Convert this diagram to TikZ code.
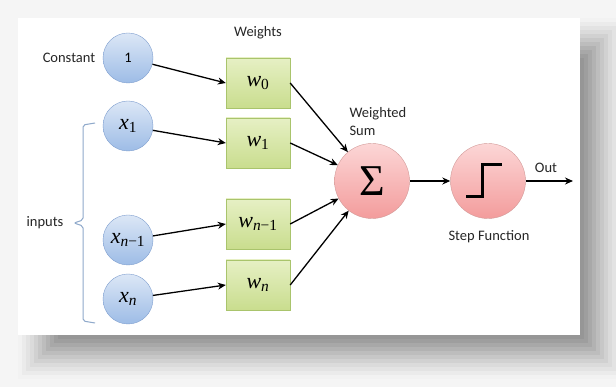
\documentclass[tikz,border=0pt]{standalone}
\usepackage{fontspec}
\setmainfont{Carlito}
\newfontfamily\symfont{Liberation Serif}
\usetikzlibrary{arrows.meta}

\definecolor{intop}{HTML}{DCE7F6}
\definecolor{inbot}{HTML}{9DBCE6}
\definecolor{inedge}{HTML}{7F9FCF}
\definecolor{wtop}{HTML}{E6F0C4}
\definecolor{wbot}{HTML}{C9DD8E}
\definecolor{wedge}{HTML}{A9C46C}
\definecolor{utop}{HTML}{FCD6D6}
\definecolor{ubot}{HTML}{F39C9C}
\definecolor{uedge}{HTML}{D29A98}
\definecolor{bracecol}{HTML}{8FA9CB}

% italic letter with an upright subscript
\newcommand\vsub[2]{{\itshape #1}\textsubscript{#2}}

\tikzset{
  input/.style={circle,draw=inedge,top color=intop,bottom color=inbot,
    minimum size=50pt,inner sep=0pt,font=\symfont\fontsize{22}{24}\selectfont},
  weight/.style={rectangle,draw=wedge,top color=wtop,bottom color=wbot,
    minimum width=64pt,minimum height=50pt,inner sep=0pt,font=\symfont\fontsize{22}{24}\selectfont},
  unit/.style={circle,draw=uedge,top color=utop,bottom color=ubot,
    minimum size=75pt,inner sep=0pt,font=\symfont\fontsize{44}{46}\selectfont},
  tag/.style={font=\fontsize{14.5}{18}\selectfont,text=black!85}
}

\begin{document}
\begin{tikzpicture}[x=1pt,y=-1pt]
	\useasboundingbox (0,0) rectangle (616,387);
	% backdrop, shadow and panel
	\fill[black!4] (0,0) rectangle (616,387);
	\foreach \d/\g in {44/5,40/8,36/11,32/14,28/18,24/22,20/26,16/30,12/34,8/38,4/41}
		\fill[black!\g] ({62-\d},{62-\d}) rectangle ({580+\d},{335+\d});
	\fill[white] (18,18) rectangle (580,335);

	\begin{scope}
		\node[input] (one) at (128,58) {\normalfont\fontsize{14.5}{16}\selectfont 1};
		\node[input] (x1) at (128,126) {\vsub{x}{1}};
		\node[input] (xn1) at (128,240) {\vsub{x}{\itshape n\upshape −1}};
		\node[input] (xn) at (128,299) {\vsub{x}{\itshape n}};
		\node[weight] (w0) at (258,83) {\vsub{w}{0}};
		\node[weight] (w1) at (258,143) {\vsub{w}{1}};
		\node[weight] (wn1) at (258,224) {\vsub{w}{\itshape n\upshape −1}};
		\node[weight] (wn) at (258,285) {\vsub{w}{\itshape n}};
		\node[unit] (sum) at (372,181) {Σ};
		\node[unit] (step) at (488,181) {};
		\coordinate (out) at (573,181);
	\end{scope}

	\begin{scope}[every node/.style={tag}]
		\node (weights) at (258,33) {Weights};
		\node (constant) at (69,58) {Constant};
		\node (inputs) at (45,223) {inputs};
		\node[anchor=west,align=left] (wsum) at (346,122) {Weighted\\Sum};
		\node (stepfn) at (489,237) {Step Function};
		\node (outlbl) at (546,168) {Out};
	\end{scope}

	% brace round the inputs
	\draw[bracecol,line width=1pt,rounded corners=2pt]
		(95,123) -- (83,125) -- (83,220) -- (74,223) -- (83,226) -- (83,321) -- (95,323);

	% step glyph
	\draw[line width=3pt] ([shift={(-22,16)}]step.center) -- ++(16,0) -- ++(0,-32) -- ++(20,0);

	\begin{scope}[>={Stealth[length=8pt,width=7pt]},
		every edge/.style={draw=black,line width=1.3pt}]
		\path [->] (one) edge (w0.west);
		\path [->] (x1) edge (w1.west);
		\path [->] (xn1) edge (wn1.west);
		\path [->] (xn) edge (wn.west);
		\path [->] (w0.east) edge (sum);
		\path [->] (w1.east) edge (sum);
		\path [->] (wn1.east) edge (sum);
		\path [->] (wn.east) edge (sum);
		\path [->] (sum) edge (step);
		\path [->] (step) edge (out);
	\end{scope}
\end{tikzpicture}
\end{document}
